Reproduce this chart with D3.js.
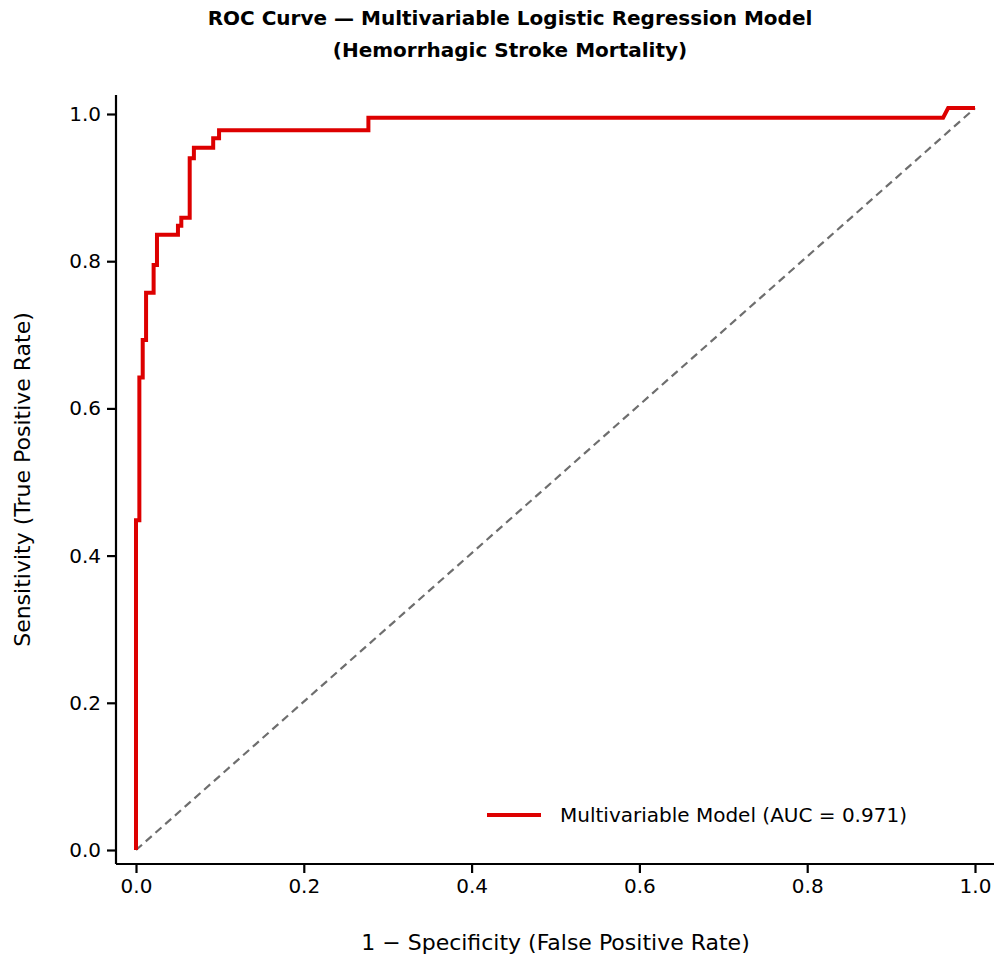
<!DOCTYPE html>
<html>
<head>
<meta charset="utf-8">
<script src="https://cdn.jsdelivr.net/npm/d3@7"></script>
<style>
  body { margin: 0; background: #fff; }
  text { font-family: "DejaVu Sans", sans-serif; }
</style>
</head>
<body>
<div id="viz"></div>
<script>
// ROC points (FPR, TPR)
const fpr = [0, 0, 0.004, 0.004, 0.008, 0.008, 0.012, 0.012, 0.021, 0.021, 0.025, 0.025, 0.050, 0.050, 0.054, 0.054, 0.064, 0.064, 0.069, 0.069, 0.092, 0.092, 0.099, 0.099, 0.277, 0.277, 0.962, 0.968, 1.0];
const tpr = [0, 0.448, 0.448, 0.642, 0.642, 0.693, 0.693, 0.757, 0.757, 0.795, 0.795, 0.836, 0.836, 0.848, 0.848, 0.859, 0.859, 0.940, 0.940, 0.954, 0.954, 0.967, 0.967, 0.978, 0.978, 0.995, 0.995, 1.008, 1.008];
const chanceX = [0, 1];
const chanceY = [0, 1.008];
const tickValues = [0, 0.2, 0.4, 0.6, 0.8, 1.0];
const legendLabel = 'Multivariable Model (AUC = 0.971)';

const width = 1003, height = 966;
const svg = d3.select('#viz').append('svg').attr('width', width).attr('height', height);

const x = d3.scaleLinear().domain([0, 1]).range([136, 975]);
const y = d3.scaleLinear().domain([0, 1]).range([850, 114]);
const m = { left: 116, bottom: 864, right: 994, top: 95 };

// chance line
svg.append('path')
  .datum(chanceX.map((v, i) => [v, chanceY[i]]))
  .attr('fill', 'none').attr('stroke', '#6e6e6e').attr('stroke-width', 2.2)
  .attr('stroke-dasharray', '8,5')
  .attr('d', d3.line().x(d => x(d[0])).y(d => y(d[1])));

// ROC curve
svg.append('path')
  .datum(fpr.map((v, i) => [v, tpr[i]]))
  .attr('fill', 'none').attr('stroke', '#dd0000').attr('stroke-width', 4)
  .attr('stroke-linejoin', 'miter')
  .attr('d', d3.line().x(d => x(d[0])).y(d => y(d[1])));

// axes
const fmt = d3.format('.1f');
const xAxis = svg.append('g').attr('transform', `translate(0,${m.bottom})`)
  .call(d3.axisBottom(x).tickValues(tickValues).tickFormat(fmt).tickSize(9).tickPadding(6).tickSizeOuter(0));
xAxis.select('.domain').attr('d', `M${m.left},0H${m.right}`);
const yAxis = svg.append('g').attr('transform', `translate(${m.left},0)`)
  .call(d3.axisLeft(y).tickValues(tickValues).tickFormat(fmt).tickSize(9).tickPadding(6).tickSizeOuter(0));
yAxis.select('.domain').attr('d', `M0,${m.top}V${m.bottom}`);
svg.selectAll('.domain, .tick line').attr('stroke', '#000').attr('stroke-width', 2.2);
svg.selectAll('.tick text').attr('font-size', 20).attr('fill', '#000');

// labels
svg.append('text').attr('x', x(0.5)).attr('y', 950).attr('text-anchor', 'middle')
  .attr('font-size', 22).text('1 − Specificity (False Positive Rate)');
svg.append('text').attr('transform', `translate(30,${(m.top + m.bottom) / 2}) rotate(-90)`)
  .attr('text-anchor', 'middle').attr('font-size', 22).text('Sensitivity (True Positive Rate)');

// title
const title = svg.append('text').attr('text-anchor', 'middle').attr('font-size', 20).attr('font-weight', 'bold');
title.append('tspan').attr('x', 510).attr('y', 25).text('ROC Curve — Multivariable Logistic Regression Model');
title.append('tspan').attr('x', 510).attr('y', 57).text('(Hemorrhagic Stroke Mortality)');

// legend
svg.append('line').attr('x1', 487).attr('x2', 541).attr('y1', 815).attr('y2', 815)
  .attr('stroke', '#dd0000').attr('stroke-width', 4);
svg.append('text').attr('x', 560).attr('y', 822).attr('font-size', 20).text(legendLabel);
</script>
</body>
</html>
